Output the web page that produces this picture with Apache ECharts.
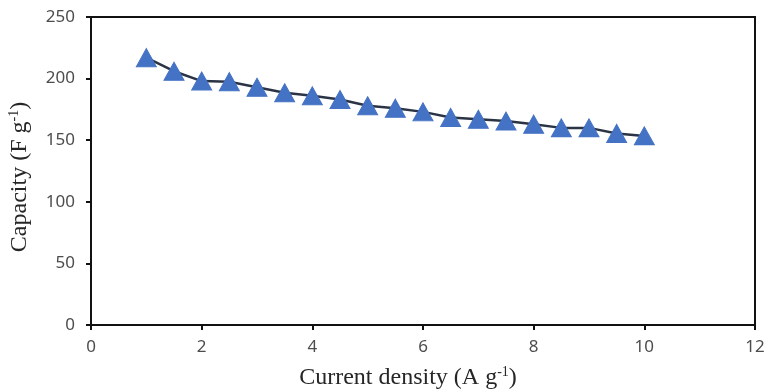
<!DOCTYPE html>
<html>
<head>
<meta charset="utf-8">
<script src="https://cdn.jsdelivr.net/npm/echarts@6/dist/echarts.min.js"></script>
<style>
  html, body { margin: 0; padding: 0; background: #fff; }
  #chart { width: 765px; height: 392px; }
</style>
</head>
<body>
<div id="chart"></div>
<script>
// current density (A g-1) and capacity (F g-1)
const density = [1, 1.5, 2, 2.5, 3, 3.5, 4, 4.5, 5, 5.5, 6, 6.5, 7, 7.5, 8, 8.5, 9, 9.5, 10];
const capacity = [217, 206, 198, 197.5, 193, 188.5, 186, 183, 178, 176, 173, 168.5, 167, 165.5, 163, 160, 160, 155.5, 153.5];

const points = density.map((d, i) => [d, capacity[i]]);

const chart = echarts.init(document.getElementById('chart'));

const tickLabel = {
    color: '#4d4d4d',
    fontFamily: 'Noto Sans',
    fontSize: 17
};
function titleFont(pad) {
    return {
        color: '#262626',
        fontFamily: 'Liberation Serif',
        fontSize: 24,
        padding: pad,
        rich: {
            sup: {
                fontFamily: 'Liberation Serif',
                fontSize: 14,
                color: '#262626',
                verticalAlign: 'top',
                padding: [0, 0, 12, 0]
            }
        }
    };
}

const option = {
    animation: false,
    backgroundColor: '#fff',
    grid: {
        left: 91,
        right: 10,
        top: 17,
        bottom: 67,
        outerBoundsMode: 'none',
        containLabel: false,
        show: true,
        borderColor: '#111',
        borderWidth: 2
    },
    xAxis: {
        type: 'value',
        min: 0,
        max: 12,
        interval: 2,
        name: 'Current density (A g{sup|-1})',
        nameLocation: 'middle',
        nameGap: 40,
        nameTextStyle: titleFont([0, 30, 0, 0]),
        axisLine: { show: true, lineStyle: { color: '#111', width: 2 } },
        axisTick: { show: true, inside: false, length: 5, lineStyle: { color: '#111', width: 2 } },
        axisLabel: Object.assign({ margin: 14 }, tickLabel),
        splitLine: { show: false }
    },
    yAxis: {
        type: 'value',
        min: 0,
        max: 250,
        interval: 50,
        name: 'Capacity (F g{sup|-1})',
        nameLocation: 'middle',
        nameGap: 58,
        nameTextStyle: titleFont([0, 12, 0, 0]),
        axisLine: { show: true, lineStyle: { color: '#111', width: 2 } },
        axisTick: { show: true, inside: false, length: 5, lineStyle: { color: '#111', width: 2 } },
        axisLabel: Object.assign({ margin: 16 }, tickLabel),
        splitLine: { show: false }
    },
    series: [
        {
            type: 'line',
            data: points,
            symbol: 'triangle',
            symbolSize: [20, 18],
            itemStyle: { color: '#4472C4', borderColor: '#4472C4' },
            lineStyle: { color: '#2b3445', width: 2.5 },
            z: 3
        }
    ]
};

chart.setOption(option);
</script>
</body>
</html>
